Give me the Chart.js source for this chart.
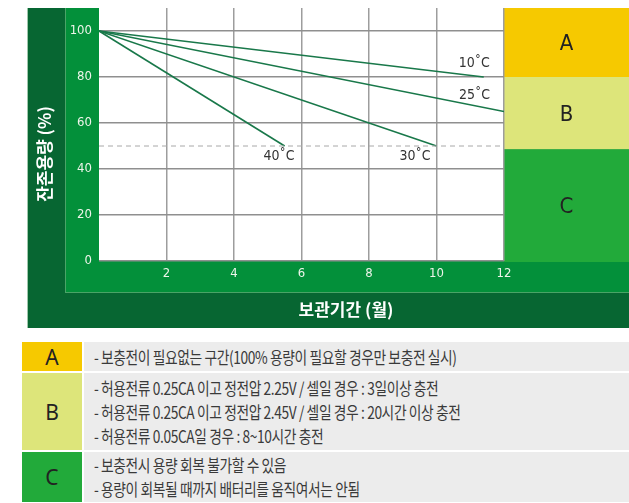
<!DOCTYPE html>
<html>
<head>
<meta charset="utf-8">
<script src="https://cdn.jsdelivr.net/npm/chart.js@4/dist/chart.umd.min.js"></script>
<style>
  body { margin: 0; background: #fff; width: 629px; height: 503px; overflow: hidden; position: relative; }
  #wrap { position: absolute; left: 0; top: 0; width: 629px; height: 335px; }
  #wrap canvas { display: block; }
  #zones { position: absolute; left: 22px; top: 342px; width: 607px; border-collapse: collapse; font-family: "Noto Sans CJK KR", sans-serif; }
  #zones td { padding: 0; border-bottom: 2px solid #fff; }
  #zones td.key { width: 60px; text-align: center; font-family: "Liberation Sans Narrow", "Noto Sans", sans-serif; font-size: 21px; color: #222; border-right: 2px solid #fff; }
  #zones td.txt { background: #ececec; color: #3a3a3a; font-size: 17px; letter-spacing: -0.5px; padding-left: 10px; }
  #zones td.txt div { height: 24px; line-height: 24px; white-space: nowrap; transform: scaleX(0.81); transform-origin: left center; }
</style>
</head>
<body>
<div id="wrap"><canvas id="c" width="629" height="335"></canvas></div>
<table id="zones">
  <tr style="height:30px"><td class="key" style="background:#f6c900">A</td>
    <td class="txt"><div>- 보충전이 필요없는 구간(100% 용량이 필요할 경우만 보충전 실시)</div></td></tr>
  <tr style="height:79px"><td class="key" style="background:#dde57a">B</td>
    <td class="txt"><div>- 허용전류 0.25CA 이고 정전압 2.25V / 셀일 경우 : 3일이상 충전</div><div>- 허용전류 0.25CA 이고 정전압 2.45V / 셀일 경우 : 20시간 이상 충전</div><div>- 허용전류 0.05CA일 경우 : 8~10시간 충전</div></td></tr>
  <tr style="height:52px"><td class="key" style="background:#22aa3a">C</td>
    <td class="txt"><div>- 보충전시 용량 회복 불가할 수 있음</div><div>- 용량이 회복될 때까지 배터리를 움직여서는 안됨</div></td></tr>
</table>
<script>
// storage temperature curves (start at 0 months, 100%)
const tempLabels = ['10˚C', '25˚C', '30˚C', '40˚C'];
const endMonths = [11.4, 12, 10, 5.5];
const endCapacity = [80, 65, 50, 50];

// zones on the right (capacity %)
const zoneNames = ['A', 'B', 'C'];
const zoneTop = [110, 80, 48.5];
const zoneBottom = [80, 48.5, 0];
const zoneColors = ['#f6c900', '#dde57a', '#22aa3a'];

const limitLine = 50;
const xTitle = '보관기간 (월)';
const yTitle = '잔존용량 (%)';

const narrow = '"Liberation Sans Narrow", "DejaVu Sans Condensed", sans-serif';
const lineColor = '#19784a';

const datasets = tempLabels.map((t, i) => ({
  label: t,
  data: [{ x: 0, y: 100 }, { x: endMonths[i], y: endCapacity[i] }],
  borderColor: lineColor,
  borderWidth: 1.6,
  pointRadius: 0
}));
datasets.unshift({
  label: 'limit',
  data: [{ x: 0, y: limitLine }, { x: 12, y: limitLine }],
  borderColor: '#a8a8a8',
  borderWidth: 1,
  borderDash: [5, 4],
  pointRadius: 0
});

// label offsets relative to each curve end point
const labelOffsets = [[6, -14], [-14, -16], [-6, 10], [10, 10]];

const framePlugin = {
  id: 'frame',
  beforeDraw(chart) {
    const ctx = chart.ctx, a = chart.chartArea, ys = chart.scales.y;
    const W = chart.width;
    ctx.save();
    ctx.fillStyle = '#076632';
    ctx.fillRect(27, a.top, W - 27, 320);
    ctx.fillStyle = '#9fc8ab';
    ctx.fillRect(27, a.top, 1, 320);
    ctx.fillStyle = '#03903a';
    ctx.fillRect(65, a.top, W - 65, 284);
    ctx.fillStyle = '#4aa467';
    ctx.fillRect(65, a.top + 284, W - 65, 1);
    ctx.fillRect(65, a.top, 1, 284);
    ctx.fillStyle = '#fff';
    ctx.fillRect(a.left, a.top, a.right - a.left, a.bottom - a.top);
    zoneNames.forEach((z, i) => {
      const t = ys.getPixelForValue(zoneTop[i]), b = ys.getPixelForValue(zoneBottom[i]);
      ctx.fillStyle = zoneColors[i];
      ctx.fillRect(a.right, t, W - a.right, b - t + (i === 2 ? 1 : 0));
      ctx.fillStyle = '#222';
      ctx.font = '22px ' + narrow;
      ctx.textAlign = 'center';
      ctx.textBaseline = 'middle';
      ctx.fillText(z, (a.right + W) / 2, (t + b) / 2 + 2);
    });
    ctx.restore();
  },
  afterDraw(chart) {
    const ctx = chart.ctx, xs = chart.scales.x, ys = chart.scales.y;
    ctx.save();
    ctx.fillStyle = '#333';
    ctx.font = '14px ' + narrow;
    ctx.textAlign = 'right';
    ctx.textBaseline = 'middle';
    tempLabels.forEach((t, i) => {
      const px = xs.getPixelForValue(endMonths[i]), py = ys.getPixelForValue(endCapacity[i]);
      ctx.fillText(t, px + labelOffsets[i][0], py + labelOffsets[i][1]);
    });
    ctx.fillStyle = '#fff';
    ctx.font = 'bold 17px "Noto Sans CJK KR", sans-serif';
    ctx.textAlign = 'center';
    ctx.fillText(xTitle, 346, 310);
    ctx.translate(45, 154);
    ctx.rotate(-Math.PI / 2);
    ctx.font = 'bold 17px "Noto Sans CJK KR", sans-serif';
    ctx.fillText(yTitle, 0, 0);
    ctx.restore();
  }
};

new Chart(document.getElementById('c'), {
  type: 'line',
  data: { datasets },
  options: {
    responsive: false,
    devicePixelRatio: 1,
    animation: false,
    layout: { padding: { left: 0, top: 8, right: 125, bottom: 0 } },
    plugins: { legend: { display: false }, tooltip: { enabled: false } },
    scales: {
      x: {
        type: 'linear', min: 0, max: 12,
        afterFit: s => { s.height = 74; s.paddingLeft = 0; s.paddingRight = 0; },
        border: { display: false },
        grid: { color: c => c.tick && c.tick.value === 0 ? 'rgba(0,0,0,0)' : '#9d9d9d', lineWidth: 1.5, drawTicks: false },
        ticks: { stepSize: 2, padding: 5, color: '#eef5ea', font: { family: narrow, size: 13 },
          callback: v => v === 0 ? '' : v }
      },
      y: {
        min: 0, max: 110,
        afterFit: s => { s.width = 99; s.paddingTop = 0; s.paddingBottom = 0; },
        border: { display: false },
        grid: { color: '#8f8f8f', lineWidth: 1.5, drawTicks: false },
        ticks: { stepSize: 20, includeBounds: false, padding: 7, color: '#eef5ea', font: { family: narrow, size: 13 } }
      }
    }
  },
  plugins: [framePlugin]
});
</script>
</body>
</html>
